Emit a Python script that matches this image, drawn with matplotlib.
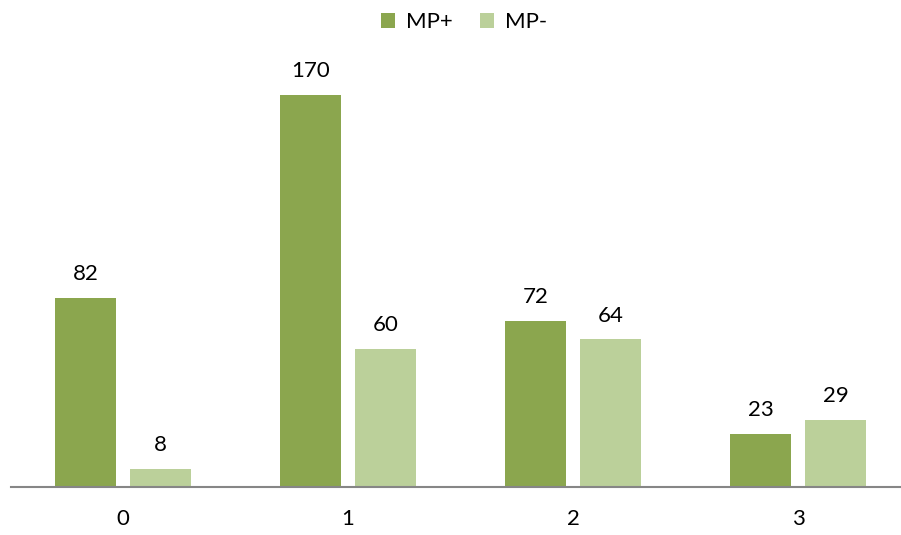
import numpy as np
import matplotlib.pyplot as plt

# chart values
categories = ['0', '1', '2', '3']
mp_plus = [82, 170, 72, 23]
mp_minus = [8, 60, 64, 29]

plt.rcParams['font.family'] = ['Lato', 'DejaVu Sans']

fig = plt.figure(figsize=(9.01, 5.35), dpi=100)
ax = fig.add_axes([10.5 / 901, 48 / 535, 891 / 901, 447 / 535])

x = np.arange(len(categories))
w = 0.267
off = 0.1667
b1 = ax.bar(x - off, mp_plus, w, color='#8BA64E', label='MP+')
b2 = ax.bar(x + off, mp_minus, w, color='#BBD09A', label='MP-')

for bars, vals in [(b1, mp_plus), (b2, mp_minus)]:
    for rect, v in zip(bars, vals):
        ax.annotate(str(v), (rect.get_x() + rect.get_width() / 2, v),
                    xytext=(0, 10), textcoords='offset points',
                    ha='center', va='bottom', fontsize=16, color='black')

ax.set_xlim(-0.5, -0.5 + 891 / 225)
ax.set_ylim(0, 447 / 2.306)
ax.set_xticks(x)
ax.set_xticklabels(categories, fontsize=16)
ax.tick_params(axis='x', length=0, pad=16)
ax.set_yticks([])
for s in ['top', 'right', 'left']:
    ax.spines[s].set_visible(False)
ax.spines['bottom'].set_color('#868686')
ax.spines['bottom'].set_linewidth(1.5)

fig.legend(loc='upper center', bbox_to_anchor=(0.515, 1.015), ncol=2, frameon=False,
           fontsize=16, handlelength=0.65, handleheight=0.65, handletextpad=0.5,
           columnspacing=1.2)

fig.savefig('out.png', dpi=100)
